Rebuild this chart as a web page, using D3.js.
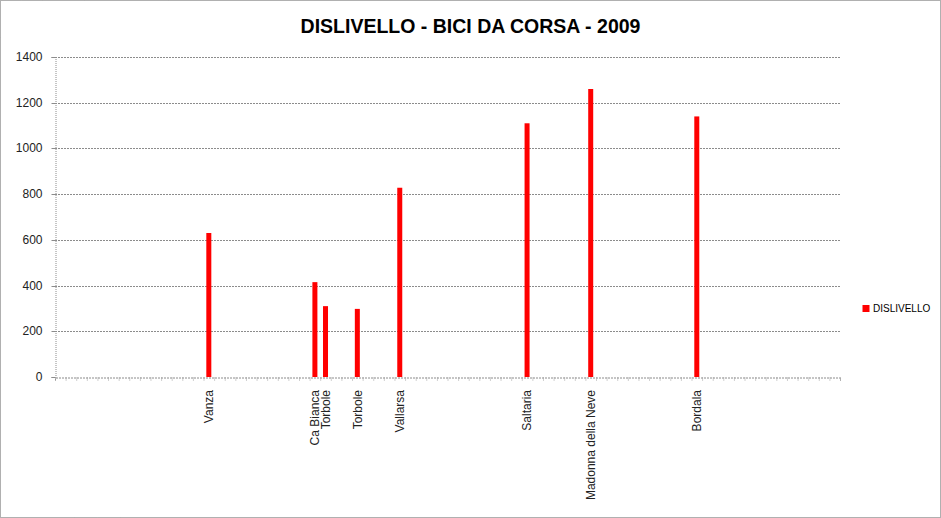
<!DOCTYPE html>
<html>
<head>
<meta charset="utf-8">
<script src="https://cdn.jsdelivr.net/npm/d3@7"></script>
<style>
  html, body { margin: 0; padding: 0; background: #fff; }
  svg { display: block; }
</style>
</head>
<body>
<svg id="chart" width="941" height="518"></svg>
<script>
// ---- data ----
const categories = ["Vanza", "Ca Bianca", "Torbole", "Torbole", "Vallarsa", "Saltaria", "Madonna della Neve", "Bordala"];
const dayIndex = [14, 24, 25, 28, 32, 44, 50, 60];   // position on the day (date) axis
const values = [630, 415, 310, 298, 828, 1110, 1260, 1140];
const totalDays = 74;
const yTicks = [0, 200, 400, 600, 800, 1000, 1200, 1400];
const seriesName = "DISLIVELLO";
const title = "DISLIVELLO - BICI DA CORSA - 2009";

// ---- layout ----
const W = 941, H = 518;
const m = { left: 55, right: 840, top: 57, bottom: 377 };
const svg = d3.select("#chart");
const font = "'Liberation Sans', Arial, sans-serif";

// outer dotted frame
svg.append("rect")
  .attr("x", 0.5).attr("y", 0.5).attr("width", W - 1).attr("height", H - 1)
  .attr("fill", "none").attr("stroke", "#606060").attr("stroke-dasharray", "1,1");

const x = d3.scaleLinear().domain([0, totalDays]).range([m.left, m.right]);
const y = d3.scaleLinear().domain([0, 1400]).range([m.bottom, m.top]);

// gridlines
svg.append("g").selectAll("line").data(yTicks.filter(d => d > 0)).join("line")
  .attr("x1", m.left).attr("x2", m.right)
  .attr("y1", d => Math.round(y(d)) + 0.5).attr("y2", d => Math.round(y(d)) + 0.5)
  .attr("stroke", "#8c8c8c").attr("stroke-dasharray", "2,1");

// y axis
const yAxis = d3.axisLeft(y).tickValues(yTicks).tickSize(4).tickPadding(9).tickFormat(d3.format("d"));
const gy = svg.append("g").attr("transform", `translate(${m.left + 0.5},0)`).call(yAxis);
gy.select(".domain").attr("stroke", "#8c8c8c").attr("stroke-dasharray", "1,1");
gy.selectAll(".tick line").attr("stroke", "#8c8c8c");
gy.selectAll(".tick").attr("transform", d => `translate(0,${Math.round(y(d)) + 0.5})`);
gy.selectAll("text").attr("font-family", font).attr("font-size", 12).attr("fill", "#222");

// x axis (day ticks)
const xAxis = d3.axisBottom(x).tickValues(d3.range(0, totalDays + 1)).tickSize(3).tickFormat("");
const gx = svg.append("g").attr("transform", `translate(0,${m.bottom + 0.5})`).call(xAxis);
gx.select(".domain").attr("stroke", "#8c8c8c").attr("stroke-dasharray", "2,1");
gx.selectAll(".tick line").attr("stroke", "#a0a0a0").attr("stroke-dasharray", "1,1");

// bars
const barW = 5;
svg.append("g").selectAll("rect").data(values).join("rect")
  .attr("x", (d, i) => x(dayIndex[i] + 0.5) - barW / 2)
  .attr("y", d => y(d))
  .attr("width", barW)
  .attr("height", d => y(0) - y(d))
  .attr("fill", "#ff0000");

// category labels (rotated, reading bottom to top, top-aligned under axis)
svg.append("g").selectAll("text").data(categories).join("text")
  .attr("transform", (d, i) => `translate(${x(dayIndex[i] + 0.5)},${m.bottom + 13}) rotate(-90)`)
  .attr("dy", "0.35em")
  .attr("text-anchor", "end")
  .attr("font-family", font).attr("font-size", 12).attr("fill", "#222")
  .text(d => d);

// title
svg.append("text")
  .attr("x", 470.5).attr("y", 33)
  .attr("text-anchor", "middle")
  .attr("font-family", font).attr("font-weight", "bold").attr("font-size", 19.5)
  .attr("fill", "#000")
  .text(title);

// legend
svg.append("rect").attr("x", 862.5).attr("y", 305).attr("width", 7).attr("height", 7).attr("fill", "#ff0000");
svg.append("text")
  .attr("x", 873).attr("y", 308.5).attr("dy", "0.35em")
  .attr("font-family", font).attr("font-size", 10).attr("fill", "#000")
  .text(seriesName);
</script>
</body>
</html>
